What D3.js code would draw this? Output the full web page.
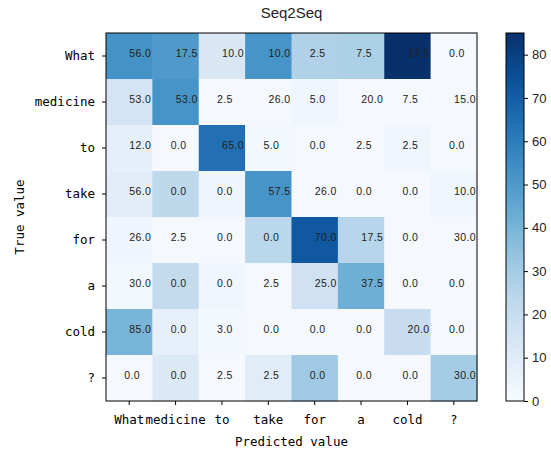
<!DOCTYPE html>
<html>
<head>
<meta charset="utf-8">
<script src="https://cdn.jsdelivr.net/npm/d3@7"></script>
<style>
  body { margin: 0; background: #fff; }
  svg { display: block; }
</style>
</head>
<body>
<svg width="551" height="450"></svg>
<script>
// words on both axes
var words = ['What', 'medicine', 'to', 'take', 'for', 'a', 'cold', '?'];

// numbers printed in the cells (row = true value)
var labels = [
  [56.0, 17.5, 10.0, 10.0, 2.5, 7.5, 37.5, 0.0],
  [53.0, 53.0, 2.5, 26.0, 5.0, 20.0, 7.5, 15.0],
  [12.0, 0.0, 65.0, 5.0, 0.0, 2.5, 2.5, 0.0],
  [56.0, 0.0, 0.0, 57.5, 26.0, 0.0, 0.0, 10.0],
  [26.0, 2.5, 0.0, 0.0, 70.0, 17.5, 0.0, 30.0],
  [30.0, 0.0, 0.0, 2.5, 25.0, 37.5, 0.0, 0.0],
  [85.0, 0.0, 3.0, 0.0, 0.0, 0.0, 20.0, 0.0],
  [0.0, 0.0, 2.5, 2.5, 0.0, 0.0, 0.0, 30.0]
];

// shade of each cell (does not follow the labels)
var shades = [
  [53, 50, 13, 52, 27, 28, 85, 1],
  [15, 52, 1, 1, 3, 1, 1, 1],
  [8, 1, 64, 2, 1, 1, 3, 1],
  [9, 23, 4, 52, 1, 1, 1, 3],
  [4, 1, 1, 24, 72, 25, 1, 1],
  [2, 21, 3, 1, 17, 42, 1, 1],
  [40, 7, 2, 1, 1, 1, 20, 1],
  [1, 12, 1, 10, 31, 1, 1, 30]
];

var cbTicks = [0, 10, 20, 30, 40, 50, 60, 70, 80];
var vmax = 85;

var mono = '"DejaVu Sans Mono", "Liberation Mono", monospace';
var sans = '"Liberation Sans", Arial, sans-serif';

var svg = d3.select('svg');
// note: "top" is taken by window.top, so plotTop
var plotLeft = 106, plotTop = 33, w = 371, h = 368;

var x = d3.scaleBand().domain(words).range([plotLeft, plotLeft + w]);
var y = d3.scaleBand().domain(words).range([plotTop, plotTop + h]);
var color = d3.scaleSequential(d3.interpolateBlues).domain([0, vmax]);

// flatten to cells
var cells = [];
labels.forEach(function(row, i){
  row.forEach(function(v, j){
    cells.push({r: words[i], c: words[j], label: v, shade: shades[i][j]});
  });
});

svg.append('g').selectAll('rect')
  .data(cells)
  .enter()
  .append('rect')
    .attr('x', function(d){ return x(d.c); })
    .attr('y', function(d){ return y(d.r); })
    .attr('width', x.bandwidth() + 0.5)
    .attr('height', y.bandwidth() + 0.5)
    .style('fill', function(d){ return color(d.shade); });

svg.append('g').selectAll('text')
  .data(cells)
  .enter()
  .append('text')
    .attr('x', function(d){
      var s = d.label.toFixed(1);
      return s.length > 3 ? x(d.c) + x.bandwidth() - 1 : x(d.c) + x.bandwidth() / 2 + 3;
    })
    .attr('y', function(d){ return y(d.r) + y.bandwidth() / 2 + 1; })
    .attr('text-anchor', function(d){ return d.label.toFixed(1).length > 3 ? 'end' : 'middle'; })
    .style('font-family', sans)
    .style('font-size', '10.5px')
    .style('letter-spacing', '0.4px')
    .style('fill', '#222')
    .text(function(d){ return d.label.toFixed(1); });

// frame
svg.append('rect')
  .attr('x', plotLeft).attr('y', plotTop).attr('width', w).attr('height', h)
  .style('fill', 'none').style('stroke', '#000').style('stroke-width', 1);

// axes
var xAxis = svg.append('g')
  .attr('transform', 'translate(0,' + (plotTop + h) + ')')
  .call(d3.axisBottom(x).tickSize(4).tickPadding(10));
var yAxis = svg.append('g')
  .attr('transform', 'translate(' + plotLeft + ',0)')
  .call(d3.axisLeft(y).tickSize(4).tickPadding(7));
[xAxis, yAxis].forEach(function(g){
  g.select('.domain').remove();
  g.selectAll('line').style('stroke', '#000');
  g.selectAll('text')
    .style('font-family', mono)
    .style('font-size', '12.5px')
    .style('fill', '#000');
});

// titles
svg.append('text')
  .attr('x', plotLeft + w / 2).attr('y', 18)
  .attr('text-anchor', 'middle')
  .style('font-family', sans).style('font-size', '15px').style('fill', '#222')
  .text('Seq2Seq');

svg.append('text')
  .attr('x', plotLeft + w / 2).attr('y', 446)
  .attr('text-anchor', 'middle')
  .style('font-family', mono).style('font-size', '12.5px')
  .text('Predicted value');

svg.append('text')
  .attr('transform', 'translate(24,' + (plotTop + h / 2) + ') rotate(-90)')
  .attr('text-anchor', 'middle')
  .style('font-family', mono).style('font-size', '12.5px')
  .text('True value');

// colour bar
var cbX = 506, cbW = 18;
var cy = d3.scaleLinear().domain([0, vmax]).range([plotTop + h, plotTop]);
var defs = svg.append('defs');
var grad = defs.append('linearGradient')
  .attr('id', 'cbgrad')
  .attr('x1', 0).attr('y1', 1).attr('x2', 0).attr('y2', 0);
d3.range(0, 1.0001, 0.05).forEach(function(t){
  grad.append('stop')
    .attr('offset', t)
    .attr('stop-color', color(t * vmax));
});
svg.append('rect')
  .attr('x', cbX).attr('y', plotTop).attr('width', cbW).attr('height', h)
  .style('fill', 'url(#cbgrad)')
  .style('stroke', '#000').style('stroke-width', 1);

var cbAxis = svg.append('g')
  .attr('transform', 'translate(' + (cbX + cbW) + ',0)')
  .call(d3.axisRight(cy).tickValues(cbTicks).tickSize(4).tickPadding(4));
cbAxis.select('.domain').remove();
cbAxis.selectAll('line').style('stroke', '#000');
cbAxis.selectAll('text')
  .style('font-family', sans)
  .style('font-size', '13px')
  .style('fill', '#222');
</script>
</body>
</html>
